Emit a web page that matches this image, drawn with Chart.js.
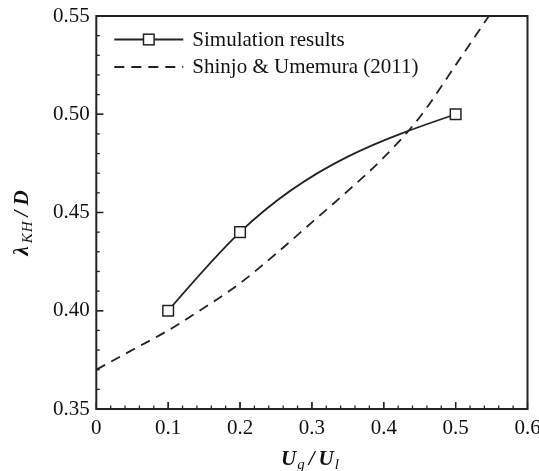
<!DOCTYPE html>
<html lang="en">
<head>
<meta charset="UTF-8">
<title>lambda_KH / D</title>
<style>body{margin:0;background:#fff}</style>
</head>
<body>
<canvas id="myChart" width="539" height="471"></canvas>
<script src="https://cdn.jsdelivr.net/npm/chart.js@4.4.1/dist/chart.umd.min.js"></script>
<script>
// values
const simX = [0.1, 0.2, 0.5];
const simY = [0.40, 0.44, 0.50];
const shinjoX = [0, 0.05, 0.1, 0.15, 0.2, 0.25, 0.3, 0.35, 0.4, 0.45, 0.5, 0.55];
const shinjoY = [0.370, 0.380, 0.390, 0.4015, 0.414, 0.429, 0.445, 0.461, 0.478, 0.4985, 0.525, 0.552];
const seriesNames = ['Simulation results', 'Shinjo & Umemura (2011)'];
const xTicks = [0, 0.1, 0.2, 0.3, 0.4, 0.5, 0.6];
const xTickLabels = ['0', '0.1', '0.2', '0.3', '0.4', '0.5', '0.6'];
const yTicks = [0.35, 0.40, 0.45, 0.50, 0.55];
const yTickLabels = ['0.35', '0.40', '0.45', '0.50', '0.55'];

const ink = '#222';
const serif = '"Liberation Serif", "Times New Roman", serif';
Chart.defaults.font.family = serif;
Chart.defaults.color = '#111';

// slopes of a natural cubic spline through the points
function naturalSlopes(xs, ys) {
    const n = xs.length, h = [], M = new Array(n).fill(0);
    const a = [], b = [], c = [], d = [];
    for (let i = 0; i < n - 1; i++) h[i] = xs[i + 1] - xs[i];
    for (let i = 1; i < n - 1; i++) {
        a[i] = h[i - 1]; b[i] = 2 * (h[i - 1] + h[i]); c[i] = h[i];
        d[i] = 6 * ((ys[i + 1] - ys[i]) / h[i] - (ys[i] - ys[i - 1]) / h[i - 1]);
    }
    for (let i = 2; i < n - 1; i++) {
        const w = a[i] / b[i - 1];
        b[i] -= w * c[i - 1]; d[i] -= w * d[i - 1];
    }
    for (let i = n - 2; i >= 1; i--) M[i] = (d[i] - c[i] * M[i + 1]) / b[i];
    const m = [];
    for (let i = 0; i < n - 1; i++) m[i] = (ys[i + 1] - ys[i]) / h[i] - h[i] * (2 * M[i] + M[i + 1]) / 6;
    m[n - 1] = (ys[n - 1] - ys[n - 2]) / h[n - 2] + h[n - 2] * (M[n - 2] + 2 * M[n - 1]) / 6;
    return m;
}

// set chart.js bezier control points from the spline slopes
const naturalSpline = {
    id: 'naturalSpline',
    beforeDatasetDraw(chart, args) {
        const ds = chart.data.datasets[args.index];
        if (!ds.naturalSpline) return;
        const pts = args.meta.data;
        const xs = chart.scales.x, ys = chart.scales.y;
        const m = naturalSlopes(ds.data.map(p => p.x), ds.data.map(p => p.y));
        const k = (ys.getPixelForValue(1) - ys.getPixelForValue(0)) / (xs.getPixelForValue(1) - xs.getPixelForValue(0));
        pts.forEach((p, i) => {
            const mp = m[i] * k;
            if (i > 0) { const dx = (p.x - pts[i - 1].x) / 3; p.cp1x = p.x - dx; p.cp1y = p.y - mp * dx; }
            if (i < pts.length - 1) { const dx = (pts[i + 1].x - p.x) / 3; p.cp2x = p.x + dx; p.cp2y = p.y + mp * dx; }
        });
        args.meta.dataset._pointsUpdated = true;
    }
};

// frame, inward ticks, legend and axis titles
const decor = {
    id: 'decor',
    afterDraw(chart) {
        const ctx = chart.ctx;
        const a = chart.chartArea;
        const xs = chart.scales.x, ys = chart.scales.y;
        ctx.save();
        ctx.strokeStyle = ink;
        ctx.lineWidth = 1.3;
        for (let i = 0; i < xTicks.length - 1; i++) {
            const step = (xTicks[i + 1] - xTicks[i]) / 5;
            for (let k = 0; k <= 5; k++) {
                const px = xs.getPixelForValue(xTicks[i] + k * step);
                const len = (k === 0 || k === 5) ? 7 : 3.5;
                ctx.beginPath(); ctx.moveTo(px, a.bottom); ctx.lineTo(px, a.bottom - len); ctx.stroke();
            }
        }
        for (let i = 0; i < yTicks.length - 1; i++) {
            const step = (yTicks[i + 1] - yTicks[i]) / 5;
            for (let k = 0; k <= 5; k++) {
                const py = ys.getPixelForValue(yTicks[i] + k * step);
                const len = (k === 0 || k === 5) ? 7 : 3.5;
                ctx.beginPath(); ctx.moveTo(a.left, py); ctx.lineTo(a.left + len, py); ctx.stroke();
            }
        }
        ctx.lineWidth = 2;
        ctx.strokeRect(a.left, a.top, a.right - a.left, a.bottom - a.top);

        // legend
        const ds = chart.data.datasets;
        const x0 = a.left + 18, x1 = a.left + 87;
        const rows = [a.top + 23.5, a.top + 51];
        ctx.font = '21px ' + serif;
        ctx.textBaseline = 'alphabetic';
        ds.forEach((d, i) => {
            const y = rows[i];
            ctx.setLineDash(d.borderDash || []);
            ctx.lineWidth = d.borderWidth;
            ctx.strokeStyle = d.borderColor;
            ctx.beginPath(); ctx.moveTo(x0, y); ctx.lineTo(x1, y); ctx.stroke();
            ctx.setLineDash([]);
            if (d.pointRadius > 0) {
                const s = d.pointRadius * Math.SQRT1_2;
                const cx = (x0 + x1) / 2;
                ctx.fillStyle = d.pointBackgroundColor;
                ctx.fillRect(cx - s, y - s, 2 * s, 2 * s);
                ctx.lineWidth = d.pointBorderWidth;
                ctx.strokeRect(cx - s, y - s, 2 * s, 2 * s);
            }
            ctx.fillStyle = '#111';
            ctx.fillText(d.label, a.left + 96, y + 6);
        });

        // axis titles with subscripts: [text, isSub, gapAfter]
        const big = 'italic bold 21px ' + serif, small = 'italic 15px ' + serif;
        function run(parts) {
            let w = 0;
            parts.forEach(p => { ctx.font = p[1] ? small : big; w += ctx.measureText(p[0]).width + (p[2] || 0); });
            return w;
        }
        function draw(parts, x, y) {
            parts.forEach(p => {
                ctx.font = p[1] ? small : big;
                ctx.fillText(p[0], x, y + (p[1] ? 4 : 0));
                x += ctx.measureText(p[0]).width + (p[2] || 0);
            });
        }
        const xt = [['U', 0, 1], ['g', 1, 4], ['/', 0, 4], ['U', 0, 1], ['l', 1]];
        draw(xt, 310 - run(xt) / 2, 465);
        const yt = [['\u03bb', 0, 3], ['K', 1, 1], ['H', 1, 5], ['/', 0, 5], ['D', 0]];
        ctx.translate(28, 223);
        ctx.rotate(-Math.PI / 2);
        draw(yt, -run(yt) / 2, 0);
        ctx.restore();
    }
};

const ctx = document.getElementById('myChart').getContext('2d');
new Chart(ctx, {
    type: 'scatter',
    data: {
        datasets: [{
            label: seriesNames[0],
            data: simX.map((x, i) => ({ x: x, y: simY[i] })),
            showLine: true,
            naturalSpline: true,
            tension: 0.4,
            borderColor: ink,
            borderWidth: 1.8,
            pointStyle: 'rect',
            pointRadius: 7.5,
            pointHoverRadius: 7.5,
            pointBackgroundColor: '#fff',
            pointBorderColor: ink,
            pointBorderWidth: 1.5
        }, {
            label: seriesNames[1],
            data: shinjoX.map((x, i) => ({ x: x, y: shinjoY[i] })),
            showLine: true,
            borderColor: ink,
            borderWidth: 1.8,
            borderDash: [10, 7],
            cubicInterpolationMode: 'monotone',
            pointRadius: 0,
            pointHoverRadius: 0
        }]
    },
    options: {
        responsive: false,
        animation: false,
        layout: { padding: { left: 0, top: 16, right: 11.5, bottom: 0 } },
        plugins: { legend: { display: false }, tooltip: { enabled: false } },
        scales: {
            x: {
                type: 'linear', min: 0, max: 0.6,
                grid: { display: false, drawTicks: false },
                border: { display: false },
                afterBuildTicks: s => { s.ticks = xTicks.map(v => ({ value: v })); },
                afterFit: s => { s.height = 62; s.paddingLeft = 0; s.paddingRight = 0; },
                ticks: {
                    padding: 7, maxRotation: 0, autoSkip: false,
                    font: { size: 21 },
                    callback: (v, i) => xTickLabels[i]
                }
            },
            y: {
                type: 'linear', min: 0.35, max: 0.55,
                grid: { display: false, drawTicks: false },
                border: { display: false },
                afterBuildTicks: s => { s.ticks = yTicks.map(v => ({ value: v })); },
                afterFit: s => { s.width = 96.3; s.paddingTop = 0; s.paddingBottom = 0; },
                ticks: {
                    padding: 6.5, autoSkip: false,
                    font: { size: 21 },
                    callback: (v, i) => yTickLabels[i]
                }
            }
        }
    },
    plugins: [naturalSpline, decor]
});
</script>
</body>
</html>
